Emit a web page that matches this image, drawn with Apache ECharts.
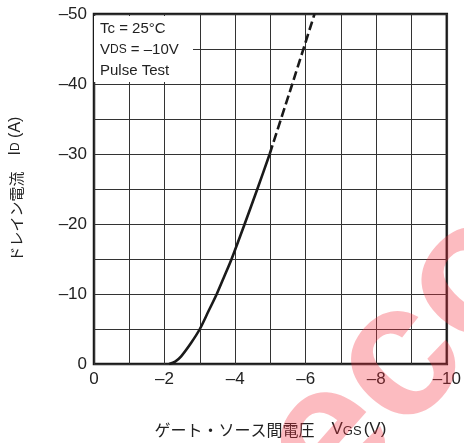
<!DOCTYPE html>
<html><head><meta charset="utf-8">
<script src="https://cdn.jsdelivr.net/npm/echarts@6/dist/echarts.min.js"></script>
<style>html,body{margin:0;padding:0;background:#fff}#c{width:464px;height:443px}</style>
</head><body><div id="c"></div>
<script>
const vgsSolid = [-2.13, -2.3, -2.47, -2.75, -3.0, -3.25, -3.48, -3.7, -3.9, -4.27, -4.63, -4.98];
const idSolid  = [0, -0.35, -1.1, -3.0, -5, -7.6, -10, -12.6, -15, -20, -25, -30];
const vgsDash = [-4.98, -5.62, -6.25];
const idDash  = [-30, -40, -50];

const FONT = '"Liberation Sans", Arial, sans-serif';
const JP = '"Noto Sans CJK JP", "Liberation Sans", sans-serif';
const chart = echarts.init(document.getElementById('c'), null, {renderer: 'canvas'});
const fmtX = v => { const r = Math.round(v); if (r === 0) return '0'; return r % 2 === 0 ? '\u2013' + Math.abs(r) : ''; };
const fmtY = v => { const r = Math.round(v); if (r === 0) return '0'; return r % 10 === 0 ? '\u2013' + Math.abs(r) : ''; };

chart.setOption({
  backgroundColor: '#fff',
  animation: false,
  grid: {left: 92, right: 16, top: 14, bottom: 75, show: true, borderColor: '#1a1a1a', borderWidth: 2.5, containLabel: false},
  xAxis: {
    type: 'value', min: -10, max: 0, interval: 1, inverse: true,
    axisLine: {show: false}, axisTick: {show: false},
    splitLine: {show: true, lineStyle: {color: '#333', width: 1}},
    axisLabel: {formatter: fmtX, color: '#222', fontSize: 17, fontFamily: FONT, margin: 7},
    name: '{j|ゲート・ソース間電圧}{n|　V}{s|GS}{n|(V)}',
    nameLocation: 'middle', nameGap: 57,
    nameTextStyle: {rich: {
      j: {fontFamily: JP, fontSize: 16, color: '#222'},
      n: {fontFamily: FONT, fontSize: 17, color: '#222'},
      s: {fontFamily: FONT, fontSize: 13, color: '#222', verticalAlign: 'bottom', padding: [0, 2, 0, 0]}
    }}
  },
  yAxis: {
    type: 'value', min: -50, max: 0, interval: 5, inverse: true,
    axisLine: {show: false}, axisTick: {show: false},
    splitLine: {show: true, lineStyle: {color: '#333', width: 1}},
    axisLabel: {formatter: fmtY, color: '#222', fontSize: 17, fontFamily: FONT, margin: 7},
    name: '{j|ドレイン電流}{n|　I}{s|D}{n| (A)}',
    nameLocation: 'middle', nameGap: 70, nameRotate: 90,
    nameTextStyle: {rich: {
      j: {fontFamily: JP, fontSize: 15, color: '#222'},
      n: {fontFamily: FONT, fontSize: 16, color: '#222'},
      s: {fontFamily: FONT, fontSize: 12, color: '#222'}
    }}
  },
  series: [
    {type: 'line', data: vgsSolid.map((v, i) => [v, idSolid[i]]), smooth: 0.3,
     showSymbol: false, lineStyle: {color: '#1a1a1a', width: 2.6}, z: 5},
    {type: 'line', data: vgsDash.map((v, i) => [v, idDash[i]]), smooth: 0.2,
     showSymbol: false, lineStyle: {color: '#1a1a1a', width: 2.6, type: [9, 4]}, z: 5}
  ],
  graphic: [
    {type: 'rect', shape: {x: 94, y: 16, width: 99, height: 66}, style: {fill: '#fff'}, z: 10},
    {type: 'text', x: 100, y: 29, style: {text: 'Tc = 25°C', font: '15px ' + FONT, fill: '#222', textVerticalAlign: 'middle'}, z: 11},
    {type: 'text', x: 100, y: 50, style: {
      text: '{n|V}{s|DS}{n| = \u201310V}', textVerticalAlign: 'middle',
      rich: {n: {fontFamily: FONT, fontSize: 15, fill: '#222'}, s: {fontFamily: FONT, fontSize: 12, fill: '#222'}}
    }, z: 11},
    {type: 'text', x: 100, y: 71, style: {text: 'Pulse Test', font: '15px ' + FONT, fill: '#222', textVerticalAlign: 'middle'}, z: 11},
    {type: 'text', x: 318, y: 600, rotation: 0.85, style: {text: 'reco', font: 'bold 190px ' + FONT, fill: 'rgba(245,50,65,0.33)', textVerticalAlign: 'bottom'}, z: 20, silent: true}
  ]
});
</script></body></html>
